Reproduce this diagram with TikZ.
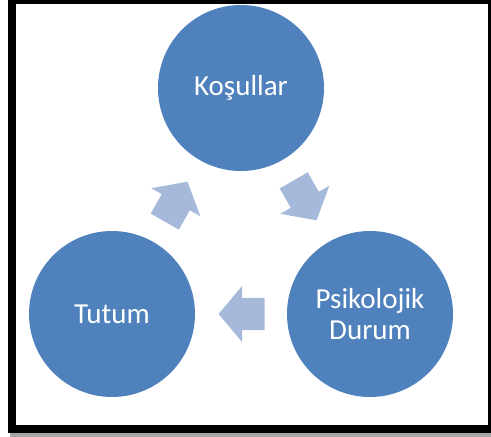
\documentclass[tikz,border=0pt]{standalone}
\usepackage{fontspec}
\setmainfont{Carlito}
\usetikzlibrary{shapes.arrows}
\definecolor{ColA}{RGB}{79,129,189}
\definecolor{ColB}{RGB}{167,185,218}
\tikzstyle{NodeCycle}=[circle,fill=ColA,text=white,inner sep=0pt,outer sep=0pt,
minimum size=166pt,align=center,font=\fontsize{29}{31}\selectfont]
\tikzstyle{EdgeCycle}=[single arrow,fill=ColB,inner xsep=0pt,inner ysep=16pt,
minimum height=46pt,minimum width=56pt,single arrow head extend=12pt,
single arrow tip angle=100,sloped,allow upside down,pos=0.42]

\begin{document}
\begin{tikzpicture}[x=1pt,y=-1pt]
        \useasboundingbox(0,0)rectangle(491,437);
        \fill[black!35](10,431)rectangle(491,437);
        \fill[black](8,0)rectangle(491,433);
        \fill[white](16,4)rectangle(488,425);
        \node[NodeCycle](kos)at(241,88){Koşullar};
        \node[NodeCycle](psi)at(370,314){Psikolojik\\Durum};
        \node[NodeCycle](tut)at(112,314){Tutum};
        \path(tut)--node[EdgeCycle]{}(kos);
        \path(kos)--node[EdgeCycle]{}(psi);
        \path(psi)--node[EdgeCycle]{}(tut);
\end{tikzpicture}
\end{document}
